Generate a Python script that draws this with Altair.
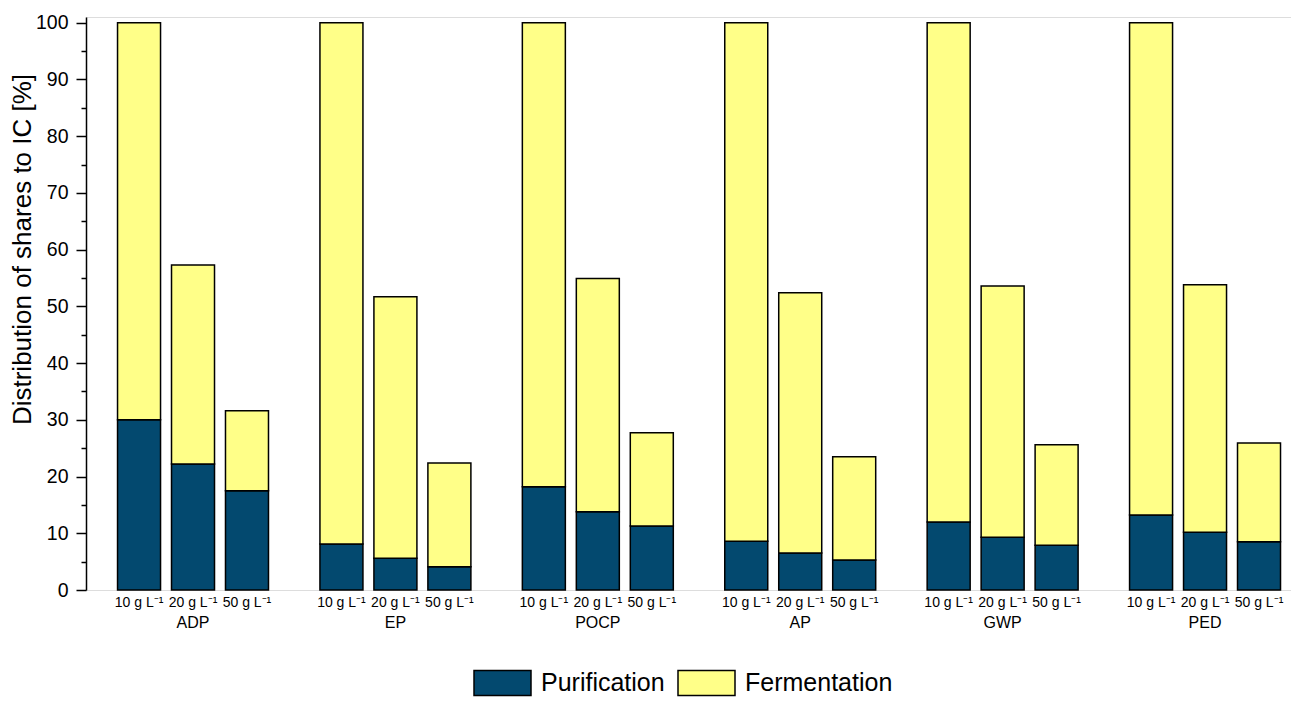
import altair as alt
import pandas as pd

groups = ["ADP", "EP", "POCP", "AP", "GWP", "PED"]
concs = ["10 g L⁻¹", "20 g L⁻¹", "50 g L⁻¹"]
purification = [
    [30.0, 22.2, 17.5],
    [8.1, 5.6, 4.1],
    [18.2, 13.8, 11.3],
    [8.6, 6.5, 5.3],
    [12.0, 9.3, 7.9],
    [13.2, 10.2, 8.5],
]
totals = [
    [100, 57.3, 31.6],
    [100, 51.7, 22.4],
    [100, 54.9, 27.7],
    [100, 52.4, 23.5],
    [100, 53.6, 25.6],
    [100, 53.8, 25.9],
]
series = ["Purification", "Fermentation"]
colors = ["#03496f", "#ffff88"]

W, H = 1205, 573
GROUP_STEP = 3.75

rows = []
for g, grp in enumerate(groups):
    for i, c in enumerate(concs):
        pos = g * GROUP_STEP + i
        p = purification[g][i]
        t = totals[g][i]
        rows.append(dict(group=grp, conc=c, pos=pos, series="Purification", y0=0, y1=p, order=0))
        rows.append(dict(group=grp, conc=c, pos=pos, series="Fermentation", y0=p, y1=t, order=1))
df = pd.DataFrame(rows)

lab = pd.DataFrame([dict(pos=g * GROUP_STEP + i, conc=c) for g in range(len(groups)) for i, c in enumerate(concs)])
glab = pd.DataFrame([dict(pos=g * GROUP_STEP + 1, group=grp) for g, grp in enumerate(groups)])

xscale = alt.Scale(domain=[-0.89, 21.25], nice=False, zero=False)

bars = alt.Chart(df).mark_bar(size=43, stroke="black", strokeWidth=1.5).encode(
    x=alt.X("pos:Q", scale=xscale,
            axis=alt.Axis(labels=False, ticks=False, title=None, grid=False,
                          domainColor="black", domainWidth=1.5)),
    y=alt.Y("y0:Q", scale=alt.Scale(domain=[0, 101], nice=False),
            axis=alt.Axis(
                title="Distribution of shares to IC [%]",
                values=list(range(0, 101, 5)),
                labelExpr="datum.value % 10 === 0 ? datum.label : ''",
                tickSize={"condition": {"test": "datum.value % 10 === 0", "value": 10}, "value": 5},
                tickColor="black", tickWidth=1.5,
                domainColor="black", domainWidth=1.5,
                grid=False, labelFontSize=19.5, labelColor="black",
                labelFont="Liberation Sans", labelPadding=8,
                titleFont="Liberation Sans", titleFontSize=26, titleFontWeight="normal",
                titleColor="black", titlePadding=0, titleY=232,
            )),
    y2="y1:Q",
    color=alt.Color("series:N", scale=alt.Scale(domain=series, range=colors),
                    legend=alt.Legend(title=None, orient="none", direction="horizontal",
                                      legendX=387, legendY=636,
                                      symbolType="M-1,-0.44H1V0.44H-1Z", symbolSize=3249,
                                      symbolStrokeColor="black", symbolStrokeWidth=1.5,
                                      labelFontSize=25, labelFont="Liberation Sans",
                                      labelColor="black", columnPadding=10, labelOffset=9)),
    order=alt.Order("order:Q"),
)

conc_text = alt.Chart(lab).mark_text(fontSize=14, font="Liberation Sans", color="black", baseline="middle").encode(
    x=alt.X("pos:Q", scale=xscale, axis=None),
    y=alt.value(H + 13),
    text="conc:N",
)
group_text = alt.Chart(glab).mark_text(fontSize=16, font="Liberation Sans", color="black", baseline="middle").encode(
    x=alt.X("pos:Q", scale=xscale, axis=None),
    y=alt.value(H + 33),
    text="group:N",
)

chart = alt.layer(bars, conc_text, group_text).properties(
    width=W, height=H,
    padding={"left": 78, "top": 9, "right": 0, "bottom": 107},
    autosize=alt.AutoSizeParams(type="none"),
).configure_view(stroke=None).configure(background="white")

chart.save("out.html", embed_options={"renderer": "svg", "actions": False})
